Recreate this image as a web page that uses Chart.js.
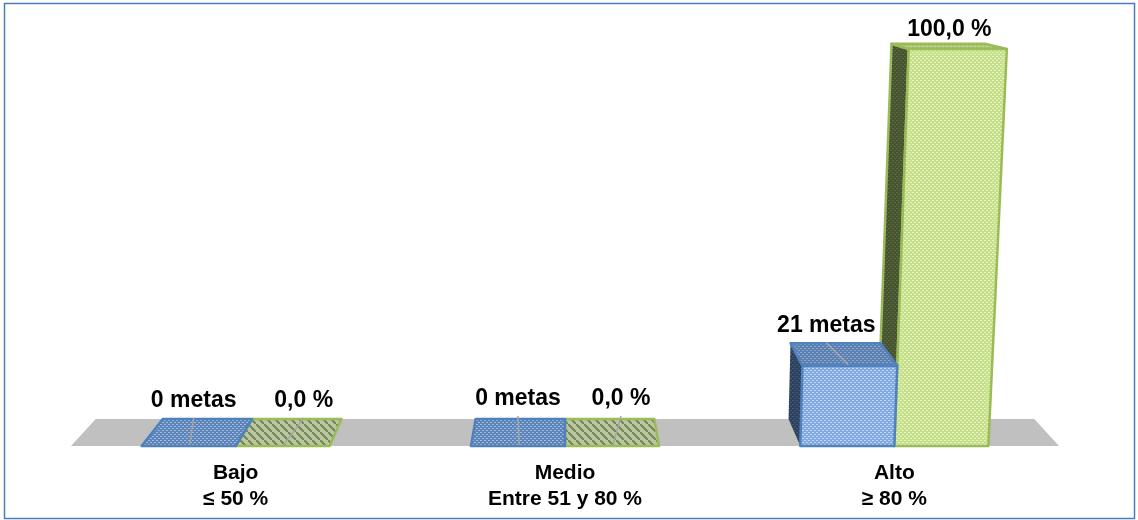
<!DOCTYPE html>
<html>
<head>
<meta charset="utf-8">
<style>
  html, body { margin: 0; padding: 0; background: #fff; overflow: hidden; }
  #wrap { width: 1138px; height: 520px; overflow: hidden; }
</style>
<script src="https://cdn.jsdelivr.net/npm/chart.js@4"></script>
</head>
<body>
<div id="wrap"><canvas id="myChart" width="1138" height="520"></canvas></div>
<script>
// Datos
const categorias = [['Bajo', '≤ 50 %'], ['Medio', 'Entre 51 y 80 %'], ['Alto', '≥ 80 %']];
const metas = [0, 0, 21];
const porcentajes = [0, 0, 100];
const textosMetas = ['0 metas', '0 metas', '21 metas'];
const textosPorcentajes = ['0,0 %', '0,0 %', '100,0 %'];

// Desplazamiento de cada etiqueta respecto a su barra [dx, dy, con guia]
const ajusteMetas = [[5, -45, true], [0, -47, true], [-21, -40, true]];
const ajustePorcentajes = [[21, -45, true], [9, -47, true], [8, -19, false]];

const fuente = 'bold 23px "Liberation Sans", Arial, sans-serif';

// Trama de puntos para imitar el relleno del original
function trama(fondo, punto, tam, pinta) {
  const c = document.createElement('canvas');
  c.width = tam; c.height = tam;
  const g = c.getContext('2d');
  g.fillStyle = fondo;
  g.fillRect(0, 0, tam, tam);
  g.fillStyle = punto;
  pinta(g);
  return document.createElement('canvas').getContext('2d').createPattern(c, 'repeat');
}
const tejido = g => {
  g.fillRect(0, 0, 2, 1); g.fillRect(2, 2, 2, 1);
};
const rayas = g => {
  for (let i = 0; i < 8; i++) g.fillRect(i, i, 2, 2);
};
const estilos = {
  azul: {
    borde: '#4f81bd',
    bordeLado: null,
    frente: trama('#82aae2', '#c4d8f2', 4, tejido),
    lado: trama('#2b415e', '#46597a', 4, tejido),
    techo: trama('#5a80b4', '#8fa6c4', 4, tejido),
    plano: trama('#5b86bd', '#a9bbd2', 4, tejido)
  },
  verde: {
    borde: '#9bbb59',
    bordeLado: '#9bbb59',
    frente: trama('#c6e08a', '#e8f3c8', 4, tejido),
    lado: trama('#46532f', '#5f6b45', 4, tejido),
    techo: trama('#a9c66e', '#c6d99c', 4, tejido),
    plano: trama('#b9c6a0', '#76895a', 8, rayas)
  }
};

// Perspectiva: las barras se abren hacia arriba y el fondo converge al centro
const plano3d = {
  id: 'plano3d',
  beforeDraw(chart) {
    const ctx = chart.ctx;
    ctx.save();
    ctx.fillStyle = '#fff';
    ctx.fillRect(0, 0, chart.width, chart.height);
    ctx.strokeStyle = '#4a7ebb';
    ctx.lineWidth = 1.5;
    ctx.strokeRect(4.5, 3.5, 1130, 515);
    ctx.restore();
  },
  afterDatasetsDraw(chart) {
    const ctx = chart.ctx;
    const area = chart.chartArea;
    const base = area.bottom;
    const cx = (area.left + area.right) / 2;

    const p = (x, y, fondo) => {
      const h = base - y;
      const px = cx + (x - cx) * (1 + h * 1.1e-4);
      if (!fondo) return [px, y];
      return [px + (cx - px) * 0.05, y - (27 - h * 0.055)];
    };
    const poli = (puntos, relleno, borde) => {
      ctx.beginPath();
      puntos.forEach((q, i) => i ? ctx.lineTo(q[0], q[1]) : ctx.moveTo(q[0], q[1]));
      ctx.closePath();
      ctx.fillStyle = relleno;
      ctx.fill();
      if (borde) {
        ctx.strokeStyle = borde;
        ctx.lineWidth = 2.5;
        ctx.lineJoin = 'round';
        ctx.stroke();
      }
    };

    // Suelo gris
    poli([p(area.left, base), p(area.right, base), p(area.right, base, true), p(area.left, base, true)], '#c0c0c0');

    // Primero verde, luego azul: el techo azul tapa el lado verde
    [1, 0].forEach(d => {
      const est = d === 0 ? estilos.azul : estilos.verde;
      chart.getDatasetMeta(d).data.forEach(el => {
        const izq = el.x - el.width / 2;
        const der = el.x + el.width / 2;
        const y = el.y;
        if (base - y < 1) {
          poli([p(izq, base), p(der, base), p(der, base, true), p(izq, base, true)], est.plano, est.borde);
          return;
        }
        const lateral = izq > cx
          ? [p(izq, base), p(izq, y), p(izq, y, true), p(izq, base, true)]
          : [p(der, base), p(der, y), p(der, y, true), p(der, base, true)];
        poli(lateral, est.lado, est.bordeLado);
        poli([p(izq, y), p(der, y), p(der, y, true), p(izq, y, true)], est.techo, est.borde);
        poli([p(izq, base), p(der, base), p(der, y), p(izq, y)], est.frente, est.borde);
      });
    });

    // Etiquetas y guias
    ctx.font = fuente;
    ctx.textAlign = 'center';
    ctx.textBaseline = 'middle';
    [[0, textosMetas, ajusteMetas], [1, textosPorcentajes, ajustePorcentajes]].forEach(([d, textos, ajustes]) => {
      chart.getDatasetMeta(d).data.forEach((el, i) => {
        const [dx, dy, guia] = ajustes[i];
        const tx = el.x + dx;
        const ty = el.y + dy;
        if (guia) {
          ctx.beginPath();
          ctx.moveTo(tx, ty + 17);
          ctx.lineTo(el.x + 1, el.y - 1);
          ctx.strokeStyle = '#a6a6a6';
          ctx.lineWidth = 1.5;
          ctx.stroke();
        }
        ctx.fillStyle = '#000';
        ctx.fillText(textos[i], tx, ty);
      });
    });
  }
};

new Chart(document.getElementById('myChart').getContext('2d'), {
  type: 'bar',
  data: {
    labels: categorias,
    datasets: [
      { label: 'Metas', data: metas, yAxisID: 'yMetas', backgroundColor: 'transparent', barPercentage: 1, categoryPercentage: 0.571 },
      { label: 'Porcentaje', data: porcentajes, yAxisID: 'yPct', backgroundColor: 'transparent', barPercentage: 1, categoryPercentage: 0.571 }
    ]
  },
  options: {
    responsive: false,
    animation: false,
    layout: { padding: { left: 71, right: 79, top: 49, bottom: 0 } },
    plugins: { legend: { display: false }, tooltip: { enabled: false } },
    scales: {
      x: {
        grid: { display: false, drawTicks: false },
        border: { display: false },
        afterFit(scale) { scale.height = 74; },
        ticks: {
          color: '#000',
          maxRotation: 0,
          autoSkip: false,
          padding: 15,
          font: { family: '"Liberation Sans", Arial, sans-serif', weight: 'bold', size: 21, lineHeight: 1.2 }
        }
      },
      yMetas: { display: false, min: 0, max: 104 },
      yPct: { display: false, min: 0, max: 100 }
    }
  },
  plugins: [plano3d]
});
</script>
</body>
</html>
